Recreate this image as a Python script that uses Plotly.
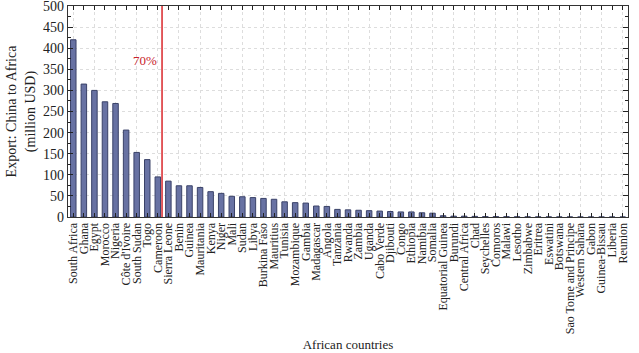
import plotly.graph_objects as go

countries = ["South Africa", "Ghana", "Egypt", "Morocco", "Nigeria", "Côte d'Ivoire",
             "South Sudan", "Togo", "Cameroon", "Sierra Leone", "Benin", "Guinea",
             "Mauritania", "Kenya", "Niger", "Mali", "Sudan", "Libya", "Burkina Faso",
             "Mauritius", "Tunisia", "Mozambique", "Gambia", "Madagascar", "Angola",
             "Tanzania", "Rwanda", "Zambia", "Uganda", "Cabo Verde", "Djibouti", "Congo",
             "Ethiopia", "Namibia", "Somalia", "Equatorial Guinea", "Burundi",
             "Central Africa", "Chad", "Seychelles", "Comoros", "Malawi", "Lesotho",
             "Zimbabwe", "Eritrea", "Eswatini", "Botswana", "Sao Tome and Principe",
             "Western Sahara", "Gabon", "Guinea-Bissau", "Liberia", "Reunion"]
exports = [420, 315, 300, 273, 269, 206, 153, 136, 95, 85, 74, 74,
           70, 60, 56, 49, 48, 46, 44, 42, 36, 34, 33, 26, 25,
           18, 17, 16, 15, 14, 13, 12, 12, 10, 9, 3, 2,
           2, 1.5, 1, 1, 0.8, 0.5, 0.4, 0.3, 0.3, 0.2, 0.2,
           0.1, 0.1, 0.1, 0.05, 0.05]
y_ticks = [0, 50, 100, 150, 200, 250, 300, 350, 400, 450, 500]
cut_position = 8.4
cut_label = "70%"
cut_label_y = 372

font = "Liberation Serif"
fig = go.Figure()
fig.add_trace(go.Bar(
    x=countries, y=exports,
    marker=dict(color="#6872A3", line=dict(color="#3A4268", width=1)),
    width=0.52, showlegend=False,
))
# helper trace for x gridlines every 2 categories
fig.add_trace(go.Scatter(x=[0], y=[0], xaxis="x2", mode="markers",
                         marker=dict(opacity=0), showlegend=False, hoverinfo="skip"))

fig.add_shape(type="line", xref="x", yref="paper", x0=cut_position, x1=cut_position,
              y0=0, y1=1, line=dict(color="#D9262B", width=1.5))
fig.add_annotation(x=cut_position, y=cut_label_y, xref="x", yref="y", text=cut_label,
                   showarrow=False, xanchor="right", yanchor="middle", xshift=-3,
                   font=dict(family=font, size=13, color="#C8232B"))

fig.update_layout(
    width=639, height=353,
    margin=dict(l=68, r=11, t=6, b=136),
    plot_bgcolor="white", paper_bgcolor="white",
    font=dict(family=font, size=12, color="#222"),
    xaxis=dict(
        type="category", range=[-0.5, 52.5], showgrid=False,
        tickmode="array", tickvals=countries, ticktext=countries,
        tickangle=-90, tickfont=dict(family=font, size=12, color="#222"),
        ticks="inside", ticklen=4, tickcolor="#222", tickwidth=1,
        showline=True, linecolor="#333", linewidth=1.2, mirror="ticks",
        title=dict(text="African countries", font=dict(family=font, size=13), standoff=6),
        automargin=False,
    ),
    xaxis2=dict(
        overlaying="x", range=[-0.5, 52.5], tick0=0, dtick=2, showgrid=True,
        gridcolor="#DDDDDD", griddash="dot", gridwidth=1, showticklabels=False,
        ticks="", zeroline=False, showline=False, layer="below traces",
    ),
    yaxis=dict(
        range=[0, 500], tickmode="array", tickvals=y_ticks,
        showgrid=True, gridcolor="#DDDDDD", griddash="dot",
        ticks="inside", ticklen=5, tickcolor="#222",
        minor=dict(ticks="inside", ticklen=3, dtick=25, tickcolor="#222", showgrid=False),
        showline=True, linecolor="#333", linewidth=1.2, mirror="ticks",
        tickfont=dict(family=font, size=14, color="#222"), zeroline=False,
        ticklabeloverflow="allow",
        title=dict(text="Export: China to Africa<br>(million USD)",
                   font=dict(family=font, size=14), standoff=4),
        automargin=False,
    ),
    bargap=0.45,
)
fig.write_html("out.html")
